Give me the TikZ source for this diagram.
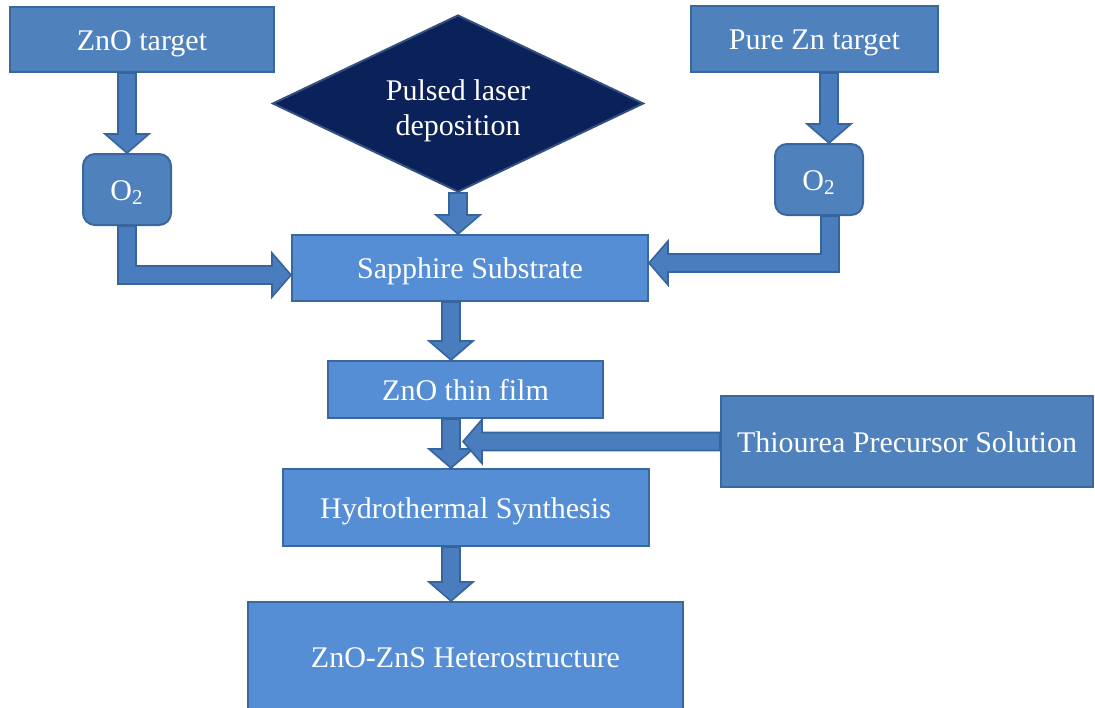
\documentclass[tikz,border=0pt]{standalone}
\usepackage{fontspec}
\setmainfont{Liberation Serif}
\usetikzlibrary{shapes.geometric, positioning, calc}

\definecolor{boxdark}{HTML}{4F81BD}
\definecolor{boxlight}{HTML}{558ED5}
\definecolor{boxedge}{HTML}{3A679E}
\definecolor{arrowfill}{HTML}{4A7DBE}
\definecolor{arrowedge}{HTML}{36649C}
\definecolor{navy}{HTML}{0B215A}
\definecolor{navyedge}{HTML}{34507F}

\newcommand{\shaftw}{4.5pt}
\newcommand{\headw}{11pt}
\newcommand{\headl}{9.5pt}

\tikzset{
  box/.style={rectangle, draw=boxedge, line width=1pt, text=white,
    font=\fontsize{15}{18}\selectfont, align=center, inner sep=2pt,
    text height=11pt, text depth=0.5pt},
  darkbox/.style={box, fill=boxdark},
  lightbox/.style={box, fill=boxlight},
  gasbox/.style={darkbox, rounded corners=6pt},
  blk/.style={draw=arrowedge, fill=arrowfill, line width=0.8pt},
  blkdown/.style={blk, to path={let \p1=(\tikztostart), \p2=(\tikztotarget) in
    (\x1-\shaftw,\y1) -- (\x1-\shaftw,\y2+\headl) -- (\x1-\headw,\y2+\headl) -- (\x1,\y2)
    -- (\x1+\headw,\y2+\headl) -- (\x1+\shaftw,\y2+\headl) -- (\x1+\shaftw,\y1) -- cycle}},
  blkleft/.style={blk, to path={let \p1=(\tikztostart), \p2=(\tikztotarget) in
    (\x1,\y1+\shaftw) -- (\x2+\headl,\y1+\shaftw) -- (\x2+\headl,\y1+\headw) -- (\x2,\y1)
    -- (\x2+\headl,\y1-\headw) -- (\x2+\headl,\y1-\shaftw) -- (\x1,\y1-\shaftw) -- cycle}},
  elbowright/.style={blk, to path={let \p1=(\tikztostart), \p2=(\tikztotarget) in
    (\x1-\shaftw,\y1) -- (\x1-\shaftw,\y2-\shaftw) -- (\x2-\headl,\y2-\shaftw) -- (\x2-\headl,\y2-\headw)
    -- (\x2,\y2) -- (\x2-\headl,\y2+\headw) -- (\x2-\headl,\y2+\shaftw) -- (\x1+\shaftw,\y2+\shaftw)
    -- (\x1+\shaftw,\y1) -- cycle}},
  elbowleft/.style={blk, to path={let \p1=(\tikztostart), \p2=(\tikztotarget) in
    (\x1+\shaftw,\y1) -- (\x1+\shaftw,\y2-\shaftw) -- (\x2+\headl,\y2-\shaftw) -- (\x2+\headl,\y2-\headw)
    -- (\x2,\y2) -- (\x2+\headl,\y2+\headw) -- (\x2+\headl,\y2+\shaftw) -- (\x1-\shaftw,\y2+\shaftw)
    -- (\x1-\shaftw,\y1) -- cycle}}
}

\begin{document}
\begin{tikzpicture}
  \useasboundingbox (0,0) rectangle (547.5pt,-353.5pt);

  % Alvos e laser
  \node[darkbox, minimum width=132pt, minimum height=32.5pt] (zt) at (71pt,-19.75pt) {ZnO target};
  \node[darkbox, minimum width=123.5pt, minimum height=33pt] (pzt) at (407.25pt,-19.5pt) {Pure Zn target};
  \node[diamond, aspect=2.1, minimum width=185.5pt, minimum height=88.5pt, inner sep=0pt,
    draw=navyedge, fill=navy, line width=1pt,
    label={[text=white, align=center, font=\fontsize{15}{17.5}\selectfont, yshift=-3.5pt]center:{Pulsed laser\\deposition}}]
    (pld) at (229pt,-51.75pt) {};

  % Oxigenio
  \node[gasbox, minimum width=44pt, minimum height=35.5pt, below=40pt of zt, xshift=-7.5pt] (o2l) {O\textsubscript{2}};
  \node[gasbox, minimum width=44pt, minimum height=35.5pt, below=35pt of pzt, xshift=2.25pt] (o2r) {O\textsubscript{2}};

  % Coluna central
  \node[lightbox, minimum width=178pt, minimum height=33pt] (sap) at (235pt,-134pt) {Sapphire Substrate};
  \node[lightbox, minimum width=137.5pt, minimum height=28.5pt, below=29pt of sap, xshift=-2.25pt] (film) {ZnO thin film};
  \node[lightbox, minimum width=183pt, minimum height=38.5pt, below=24.5pt of film] (hyd) {Hydrothermal Synthesis};
  \node[lightbox, minimum width=217.5pt, minimum height=54.5pt, below=27pt of hyd] (het) {ZnO-ZnS Heterostructure};
  \node[darkbox, minimum width=186pt, minimum height=45.5pt] (thio) at (453.5pt,-220.75pt) {Thiourea Precursor Solution};

  % Pontos auxiliares
  \coordinate (spine) at (225.5pt,0);
  \coordinate (join) at (231.5pt,0);
  \coordinate (o2rin) at ([xshift=5pt]o2r.north);
  \coordinate (o2rout) at ([xshift=5.5pt]o2r.south);
  \coordinate (sapleft) at ([yshift=-3.5pt]sap.west);
  \coordinate (sapright) at ([yshift=2.5pt]sap.east);

  % Setas
  \draw[blkdown] (o2l.north |- zt.south) to (o2l.north);
  \draw[blkdown] (o2rin |- pzt.south) to (o2rin);
  \draw[blkdown] (pld.south) to (sap.north);
  \draw[elbowright] (o2l.south) to (sapleft);
  \draw[elbowleft] (o2rout) to (sapright);
  \draw[blkdown] (spine |- sap.south) to (spine |- film.north);
  \draw[blkdown] (spine |- film.south) to (spine |- hyd.north);
  \draw[blkdown] (spine |- hyd.south) to (spine |- het.north);
  \draw[blkleft] (thio.west) to (join |- thio.west);
\end{tikzpicture}
\end{document}
